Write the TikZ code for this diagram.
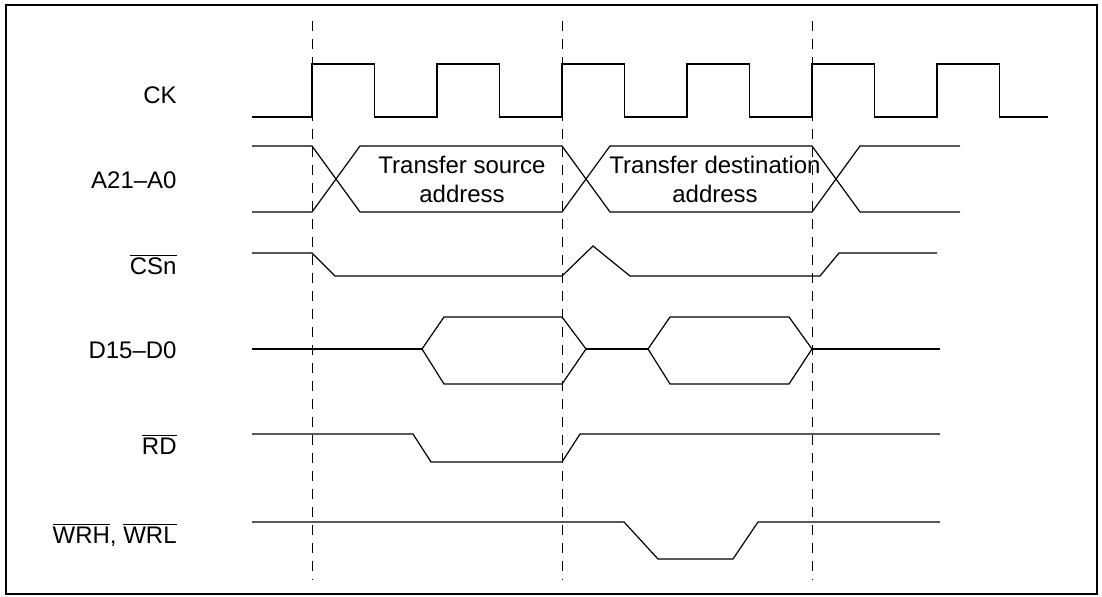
\documentclass[tikz,border=0pt]{standalone}
\usepackage{fontspec}
\setmainfont{Liberation Sans}
\usetikzlibrary{calc}

\newcommand{\lowact}[1]{$\overline{\mbox{#1}}$}

\begin{document}
\begin{tikzpicture}[x=0.5pt, y=-0.5pt,
  wave/.style={line width=0.6pt, line join=miter},
  guide/.style={line width=0.5pt, dash pattern=on 5pt off 4pt},
  signame/.style={anchor=base east, inner sep=0pt, font=\fontsize{12}{14.5}\selectfont},
  busnote/.style={align=center, inner sep=0pt, font=\fontsize{12}{14.5}\selectfont}]

\useasboundingbox (0,0) rectangle (1102,597);

% frame
\draw[line width=1pt] (5.5,5.5) rectangle (1097,594);

% reference edges
\coordinate (E1) at (312,0);
\coordinate (E2) at (562,0);
\coordinate (E3) at (812,0);
\draw[guide] (E1 |- 0,21) -- (E1 |- 0,580);
\draw[guide] (E2 |- 0,21) -- (E2 |- 0,580);
\draw[guide] (E3 |- 0,21) -- (E3 |- 0,580);

% signal names
\node (ck) at (177,104) [signame] {CK};
\node (addr) at (177,189) [signame] {A21--A0};
\node (cs) at (177,275) [signame] {\lowact{CSn}};
\node (data) at (177,359) [signame] {D15--D0};
\node (rd) at (177,455) [signame] {\lowact{RD}};
\node (wr) at (177,544) [signame] {\lowact{WRH}, \lowact{WRL}};

% CK
\draw[wave] (252,117) -- (312,117) -- (312,64) -- (374.5,64) -- (374.5,117)
  -- (437,117) -- (437,64) -- (499.5,64) -- (499.5,117)
  -- (562,117) -- (562,64) -- (624.5,64) -- (624.5,117)
  -- (687,117) -- (687,64) -- (749.5,64) -- (749.5,117)
  -- (812,117) -- (812,64) -- (874.5,64) -- (874.5,117)
  -- (937,117) -- (937,64) -- (999.5,64) -- (999.5,117) -- (1048,117);

% A21-A0
\draw[wave] (252,146) -- (312,146) -- (360,212) -- (562,212) -- (610,146)
  -- (812,146) -- (860,212) -- (960,212);
\draw[wave] (252,212) -- (312,212) -- (360,146) -- (562,146) -- (610,212)
  -- (812,212) -- (860,146) -- (960,146);
\node (src) at (462,179) [busnote] {Transfer source\\address};
\node (dst) at (715,179) [busnote] {Transfer destination\\address};

% CSn
\draw[wave] (252,253) -- (312,253) -- (335,276) -- (562,276) -- (593,246)
  -- (630,276) -- (820,276) -- (839,253) -- (937,253);

% D15-D0
\draw[wave] (252,349) -- (422,349);
\draw[wave] (422,349) -- (444,317) -- (562,317) -- (586,349) -- (562,384)
  -- (444,384) -- cycle;
\draw[wave] (586,349) -- (648,349);
\draw[wave] (648,349) -- (670,317) -- (789,317) -- (812,349) -- (789,384)
  -- (670,384) -- cycle;
\draw[wave] (812,349) -- (940,349);

% RD
\draw[wave] (252,434) -- (413,434) -- (431,462) -- (562,462) -- (580,434)
  -- (940,434);

% WRH, WRL
\draw[wave] (252,522) -- (624,522) -- (658,559) -- (733,559) -- (758,522)
  -- (940,522);

\end{tikzpicture}
\end{document}
